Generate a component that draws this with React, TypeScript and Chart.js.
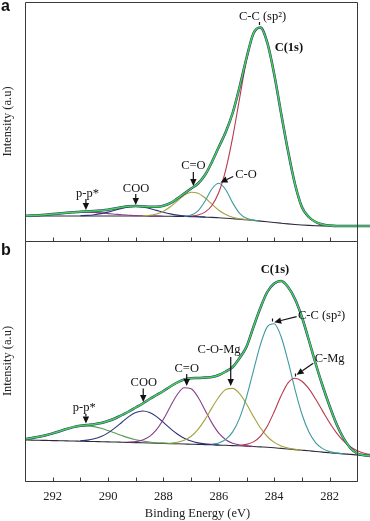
import React, { useEffect, useRef } from 'react';
import { Chart, registerables } from 'chart.js';

Chart.register(...registerables);

// ---------- shared energy grid (binding energy, eV) ----------
const ENERGY = [
  293, 292.75, 292.5, 292.25, 292, 291.75, 291.5, 291.25, 291, 290.75,
  290.5, 290.25, 290, 289.75, 289.5, 289.25, 289, 288.75, 288.5, 288.25,
  288, 287.75, 287.5, 287.25, 287, 286.75, 286.5, 286.25, 286, 285.75,
  285.5, 285.25, 285, 284.75, 284.5, 284.25, 284, 283.75, 283.5, 283.25,
  283, 282.75, 282.5, 282.25, 282, 281.75, 281.5, 281.25, 281, 280.75, 280.5,
];

const TICK_EV = [293, 292, 291, 290, 289, 288, 287, 286, 285, 284, 283, 282, 281];
const LABEL_EV = [292, 290, 288, 286, 284, 282];
const FRAME_EV = [293, 281];

// ---------- panel a (intensity, arbitrary units) ----------
const ENV_A = [
  10.3, 10.5, 10.8, 11.3, 11.9, 12.6, 13.2, 13.7, 14.3, 14.6,
  14.9, 15.5, 16.3, 17.5, 18.8, 19.7, 19.9, 19.6, 19.2, 19.3,
  20.3, 22.8, 27.5, 32.5, 37.5, 42.5, 51, 64, 79, 94,
  113, 139, 168, 192.6, 198.5, 183.3, 151.8, 112.6, 74.9, 42,
  19, 9, 4, 1.5, 0.5, 0, 0, 0, 0, 0, 0,
];
const BG_A = [
  10, 10, 10, 10, 10, 10, 10, 10, 10, 10,
  10, 10, 10, 10, 10, 10, 10, 10, 9.9, 9.85,
  9.8, 9.7, 9.6, 9.5, 9.4, 9.2, 8.9, 8.6, 8.2, 7.8,
  7.3, 6.8, 6.2, 5.6, 4.9, 4.2, 3.5, 2.8, 2.1, 1.5,
  1, 0.6, 0.3, 0.1, 0, 0, 0, 0, 0, 0, 0,
];
const PP_A_FROM = 293;
const PP_A = [10.3, 10.5, 10.8, 11.3, 11.9, 12.6, 13.2, 13.7, 14.0, 13.9, 13.6, 13.1, 12.4, 11.8, 11.2, 10.8, 10.4, 10.2, 10.0, 9.9, 9.8];
const COO_A_FROM = 291;
const COO_A = [10.3, 10.6, 11.3, 12.4, 13.9, 15.8, 17.6, 19.0, 19.5, 19.0, 17.5, 15.6, 13.7, 12.1, 10.9, 10.1, 9.7, 9.3, 8.9];
const CEO_A_FROM = 288.75; // C=O
const CEO_A = [10.2, 10.7, 12.0, 14.7, 19.2, 25.0, 30.7, 33.8, 32.8, 28.2, 21.8, 15.8, 11.5, 8.8, 7.3, 6.4, 5.6];
const CO_A_FROM = 287.25; // C-O
const CO_A = [9.8, 10.9, 15.1, 24.7, 37.0, 42.7, 36.2, 23.1, 12.7, 7.7, 5.9, 4.9];
const CC_A_FROM = 287; // C-C (sp2)
const CC_A = [10.0, 11.0, 13.9, 20.5, 33.7, 56.2, 88.6, 127.7, 165.8, 192.3, 198.5, 183.3, 151.8, 112.6, 74.9, 41.5, 18.5, 8.8, 3.8, 1.4, 0.4, 0, 0];

// ---------- panel b ----------
const ENV_B = [
  17, 18, 19.2, 20.7, 22.6, 24.8, 27, 28.9, 30.2, 31,
  31.8, 33, 35, 37.5, 41, 44.5, 48.5, 52.5, 57, 61,
  65, 69.5, 73.5, 76.5, 77.7, 78, 78.5, 79, 81, 84.5,
  89, 98, 109.3, 129, 148, 164, 172.5, 175, 169, 157,
  139, 116, 92, 70, 50, 32, 18, 8, 2.5, 0.8, 0,
];
const BG_B = [
  16, 15.9, 15.7, 15.6, 15.4, 15.3, 15.1, 15, 14.8, 14.6,
  14.5, 14.3, 14.1, 14, 13.8, 13.6, 13.4, 13.2, 13, 12.8,
  12.6, 12.4, 12.2, 12, 11.8, 11.6, 11.4, 11.2, 10.9, 10.7,
  10.4, 10.2, 9.9, 9.5, 9.1, 8.7, 8.2, 7.6, 7, 6.4,
  5.8, 5.2, 4.5, 3.9, 3.2, 2.7, 2.1, 1.6, 1, 0.6, 0.3,
];
const PP_B_FROM = 293;
const PP_B = [17.1, 17.8, 18.9, 20.4, 22.3, 24.6, 26.8, 28.7, 29.9, 30.1, 29.4, 27.7, 25.4, 22.9, 20.4, 18.1, 16.3, 15.0, 14.0, 13.3, 12.9, 12.5, 12.2];
const COO_B_FROM = 291;
const COO_B = [15.4, 15.9, 17.2, 19.5, 23.1, 28.1, 33.8, 39.4, 43.4, 45.0, 43.5, 39.4, 33.6, 27.4, 22.0, 17.7, 14.9, 13.1, 12.1, 11.5, 11.0];
const CEO_B_FROM = 289.25; // C=O
const CEO_B = [13.9, 14.4, 16.0, 19.6, 26.4, 36.8, 49.6, 61.5, 68.3, 67.3, 58.8, 46.0, 33.1, 22.8, 16.3, 12.7, 11.0, 10.1, 9.5];
const COMG_B_FROM = 287.75; // C-O-Mg
const COMG_B = [13.0, 13.8, 15.8, 19.8, 26.7, 36.4, 48.1, 59.0, 66.4, 67.6, 62.3, 52.0, 39.6, 28.2, 19.5, 13.6, 10.0, 7.9, 6.7, 5.8];
const CC_B_FROM = 286.25; // C-C (sp2)
const CC_B = [11.9, 13.1, 16.6, 24.1, 37.9, 58.9, 85.2, 111.2, 129.1, 132.2, 119.2, 94.8, 66.7, 42.0, 24.2, 13.2, 7.4, 4.4, 3.1, 2.1];
const CMG_B_FROM = 285.25; // C-Mg
const CMG_B = [10.7, 11.6, 14.1, 19.7, 29.8, 44.2, 60.2, 73.2, 77.8, 74.8, 67.3, 56.7, 44.9, 33.2, 23.2, 15.1, 9.3, 5.3, 2.8, 1.4];

// ---------- annotations (data coordinates) ----------
const NOTES_A = [
  { text: 'p-p*', x: 290.74, y: 32, arrow: [290.8, 27, 290.8, 16] },
  { text: 'COO', x: 288.99, y: 37, arrow: [289.0, 32, 289.0, 21] },
  { text: 'C=O', x: 286.92, y: 60.3, arrow: [286.92, 54, 286.92, 40] },
  { text: 'C-O', x: 285.02, y: 51.3, arrow: [285.48, 49.5, 285.94, 43.5] },
  { text: 'C-C (sp²)', x: 284.42, y: 209.3 },
  { text: 'C(1s)', x: 283.47, y: 178, bold: true },
];
const MARKS_A = [{ x: 284.55, y1: 201, y2: 204 }];

const NOTES_B = [
  { text: 'p-p*', x: 290.86, y: 48, arrow: [290.8, 42, 290.8, 32.5] },
  { text: 'COO', x: 288.71, y: 73.3, arrow: [288.73, 67.5, 288.73, 54] },
  { text: 'C=O', x: 287.16, y: 87.7, arrow: [287.16, 82, 287.16, 70] },
  { text: 'C-O-Mg', x: 285.99, y: 106, arrow: [285.57, 99, 285.57, 70] },
  { text: 'C-C (sp²)', x: 282.29, y: 140, arrow: [283.19, 139.3, 284.0, 133.8] },
  { text: 'C-Mg', x: 282.0, y: 97, arrow: [282.59, 92.7, 283.19, 81.2] },
  { text: 'C(1s)', x: 283.97, y: 186, bold: true },
];
const MARKS_B = [
  { x: 284.07, y1: 134.5, y2: 137.5 },
  { x: 283.25, y1: 79.5, y2: 82.5 },
];

// ---------- styles ----------
const SERIF = "'Liberation Serif', 'Times New Roman', serif";
const GREEN = '#45d445';
const BLUE = '#2b3488';
const BASE = '#2b2b3b';
const RED = '#b9394c';
const TEAL = '#3f9aa0';
const OLIVE = '#a4a23e';
const PURPLE = '#8a3e8d';
const NAVY = '#2f3278';
const PP_GREEN = '#5f9a58';
const FRAME_COLOR = '#3a3a3a';

function full(vals: number[]) {
  return ENERGY.map((e, i) => ({ x: e, y: vals[i] }));
}
function part(from: number, vals: number[]) {
  const start = ENERGY.indexOf(from);
  return vals.map((v, k) => ({ x: ENERGY[start + k], y: v }));
}
function line(data: any[], color: string, width = 1.1) {
  return {
    data,
    borderColor: color,
    borderWidth: width,
    pointRadius: 0,
    fill: false,
    cubicInterpolationMode: 'monotone',
  };
}

function drawArrow(ctx: CanvasRenderingContext2D, x1: number, y1: number, x2: number, y2: number) {
  const ang = Math.atan2(y2 - y1, x2 - x1);
  const len = 7;
  const hw = 3.2;
  const bx = x2 - Math.cos(ang) * len;
  const by = y2 - Math.sin(ang) * len;
  ctx.beginPath();
  ctx.moveTo(x1, y1);
  ctx.lineTo(bx, by);
  ctx.stroke();
  ctx.beginPath();
  ctx.moveTo(x2, y2);
  ctx.lineTo(bx + Math.sin(ang) * hw, by - Math.cos(ang) * hw);
  ctx.lineTo(bx - Math.sin(ang) * hw, by + Math.cos(ang) * hw);
  ctx.closePath();
  ctx.fill();
}

const decorPlugin = {
  id: 'decor',
  afterDraw(chart: any, _args: any, opts: any) {
    const { ctx, chartArea, scales } = chart;
    const px = (v: number) => scales.x.getPixelForValue(v);
    const py = (v: number) => scales.y.getPixelForValue(v);
    ctx.save();
    // frame
    ctx.strokeStyle = FRAME_COLOR;
    ctx.lineWidth = 1;
    const l = Math.round(px(FRAME_EV[0])) + 0.5;
    const r = Math.round(px(FRAME_EV[1])) + 0.5;
    const t = Math.round(chartArea.top) + 0.5;
    const b = Math.round(chartArea.bottom) + 0.5;
    ctx.beginPath();
    ctx.moveTo(l, t);
    ctx.lineTo(r, t);
    ctx.lineTo(r, b);
    ctx.lineTo(l, b);
    ctx.closePath();
    ctx.stroke();
    // inward tick marks
    ctx.beginPath();
    for (const v of TICK_EV) {
      const x = Math.round(px(v)) + 0.5;
      ctx.moveTo(x, b);
      ctx.lineTo(x, b - 4);
    }
    ctx.stroke();
    // annotations
    ctx.strokeStyle = '#111';
    ctx.fillStyle = '#111';
    ctx.lineWidth = 1.2;
    for (const m of opts.marks || []) {
      const x = Math.round(px(m.x)) + 0.5;
      ctx.beginPath();
      ctx.moveTo(x, py(m.y1));
      ctx.lineTo(x, py(m.y2));
      ctx.stroke();
    }
    for (const n of opts.notes || []) {
      if (n.arrow) {
        drawArrow(ctx, px(n.arrow[0]), py(n.arrow[1]), px(n.arrow[2]), py(n.arrow[3]));
      }
      ctx.font = (n.bold ? 'bold ' : '') + '12.5px ' + SERIF;
      ctx.textAlign = 'center';
      ctx.textBaseline = 'middle';
      ctx.fillText(n.text, px(n.x), py(n.y));
    }
    // panel letter
    ctx.font = "bold 16px 'Liberation Sans', Arial, sans-serif";
    ctx.textAlign = 'left';
    ctx.textBaseline = 'alphabetic';
    ctx.fillText(opts.letter, 1, opts.letterY);
    ctx.restore();
  },
};

function yAxis(min: number, max: number) {
  return {
    type: 'linear',
    min,
    max,
    display: true,
    ticks: { display: false },
    grid: { display: false },
    border: { display: false },
    title: {
      display: true,
      text: 'Intensity (a.u)',
      color: '#222',
      font: { family: SERIF, size: 12.5 },
      padding: 0,
    },
    afterFit: (s: any) => {
      s.width = 25;
    },
  };
}

function configA() {
  return {
    type: 'line',
    data: {
      datasets: [
        line(full(ENV_A), GREEN, 1.5),
        line(full(ENV_A), BLUE, 2.5),
        line(part(CC_A_FROM, CC_A), RED),
        line(part(CO_A_FROM, CO_A), TEAL),
        line(part(CEO_A_FROM, CEO_A), OLIVE),
        line(part(COO_A_FROM, COO_A), NAVY),
        line(part(PP_A_FROM, PP_A), PURPLE),
        line(full(BG_A), BASE),
      ],
    },
    options: {
      animation: false,
      responsive: false,
      events: [],
      layout: { padding: { top: 2, bottom: 1, left: 0, right: 0 } },
      plugins: {
        legend: { display: false },
        tooltip: { enabled: false },
        decor: { notes: NOTES_A, marks: MARKS_A, letter: 'a', letterY: 10.5 },
      },
      scales: {
        x: { type: 'linear', reverse: true, min: 280.54, max: 293, display: false },
        y: yAxis(-15, 224),
      },
    },
    plugins: [decorPlugin],
  };
}

function configB() {
  return {
    type: 'line',
    data: {
      datasets: [
        line(full(ENV_B), GREEN, 1.5),
        line(full(ENV_B), BLUE, 2.5),
        line(part(CMG_B_FROM, CMG_B), RED),
        line(part(CC_B_FROM, CC_B), TEAL),
        line(part(COMG_B_FROM, COMG_B), OLIVE),
        line(part(CEO_B_FROM, CEO_B), PURPLE),
        line(part(COO_B_FROM, COO_B), NAVY),
        line(part(PP_B_FROM, PP_B), PP_GREEN),
        line(full(BG_B), BASE),
      ],
    },
    options: {
      animation: false,
      responsive: false,
      events: [],
      layout: { padding: { top: 0, bottom: 0, left: 0, right: 0 } },
      plugins: {
        legend: { display: false },
        tooltip: { enabled: false },
        decor: { notes: NOTES_B, marks: MARKS_B, letter: 'b', letterY: 14 },
      },
      scales: {
        x: {
          type: 'linear',
          reverse: true,
          min: 280.54,
          max: 293,
          display: true,
          position: 'bottom',
          grid: { display: false, drawTicks: false },
          border: { display: false },
          ticks: {
            padding: 8,
            color: '#222',
            font: { family: SERIF, size: 12.5 },
            maxRotation: 0,
            autoSkip: false,
          },
          title: {
            display: true,
            text: 'Binding Energy (eV)',
            color: '#222',
            font: { family: SERIF, size: 12.5 },
            padding: { top: 0, bottom: 0 },
          },
          afterBuildTicks: (s: any) => {
            s.ticks = LABEL_EV.map((v) => ({ value: v }));
          },
          afterFit: (s: any) => {
            s.height = 40;
          },
        },
        y: yAxis(-25, 215),
      },
    },
    plugins: [decorPlugin],
  };
}

function Panel(props: { make: () => any; top: number; height: number }) {
  const ref = useRef<HTMLCanvasElement | null>(null);
  useEffect(() => {
    if (!ref.current) return;
    const chart = new Chart(ref.current, props.make());
    return () => chart.destroy();
  }, []);
  return (
    <canvas
      ref={ref}
      width={370}
      height={props.height}
      style={{ position: 'absolute', left: 0, top: props.top, width: 370, height: props.height }}
    />
  );
}

export default function App() {
  return (
    <div style={{ position: 'absolute', left: 0, top: 0, width: 370, height: 521, background: '#fff' }}>
      <Panel make={configA} top={0} height={242} />
      <Panel make={configB} top={241} height={280} />
    </div>
  );
}
